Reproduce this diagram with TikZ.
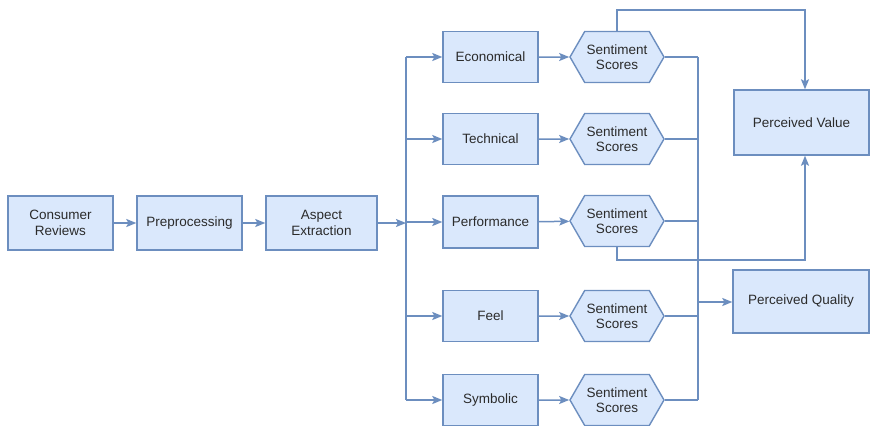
\documentclass[tikz,border=0pt]{standalone}
\usepackage{fontspec}
\setmainfont{Liberation Sans}
\usetikzlibrary{arrows.meta,shapes.symbols}
\definecolor{boxfill}{HTML}{DAE8FC}
\definecolor{boxline}{HTML}{6C8EBF}
\definecolor{txt}{HTML}{2B2B2B}
\begin{document}
\begin{tikzpicture}[x=1pt,y=-1pt,
  font=\fontsize{13.5}{15.5}\selectfont,
  every node/.style={text=txt, align=center, inner sep=2pt},
  box/.style={draw=boxline, fill=boxfill, line width=1.4pt, rectangle},
  hexa/.style={draw=boxline, fill=boxfill, line width=1.4pt, signal,
    signal to=east and west, signal pointer angle=120,
    minimum width=94, minimum height=51, inner xsep=0pt},
  link/.style={draw=boxline, line width=1.5pt},
  arr/.style={link, -{Stealth[length=10pt,width=8pt,inset=2pt]}}]
\useasboundingbox (0,0) rectangle (871,426);

% pipeline
\node[box, minimum width=105, minimum height=54] (cr) at (60.5,223) {Consumer\\Reviews};
\node[box, minimum width=105, minimum height=54] (pp) at (189.5,223) {Preprocessing};
\node[box, minimum width=111, minimum height=54] (ae) at (321.5,223) {Aspect\\Extraction};

% aspects
\node[box, minimum width=95, minimum height=51] (ec) at (490.5,57) {Economical};
\node[box, minimum width=95, minimum height=51] (te) at (490.5,139) {Technical};
\node[box, minimum width=95, minimum height=52] (pe) at (490.5,222) {Performance};
\node[box, minimum width=95, minimum height=51] (fe) at (490.5,316) {Feel};
\node[box, minimum width=95, minimum height=51] (sy) at (490.5,400) {Symbolic};

% sentiment scores
\node[hexa] (s1) at (617,57) {Sentiment\\Scores};
\node[hexa] (s2) at (617,139) {Sentiment\\Scores};
\node[hexa] (s3) at (617,221) {Sentiment\\Scores};
\node[hexa] (s4) at (617,316) {Sentiment\\Scores};
\node[hexa] (s5) at (617,400) {Sentiment\\Scores};

% outcomes
\node[box, minimum width=135, minimum height=65] (pv) at (801.5,122.5) {Perceived Value};
\node[box, minimum width=136, minimum height=63] (pq) at (801,301.5) {Perceived Quality};

% bus points
\coordinate (lbus) at (406,223);
\coordinate (rbus) at (698,302);
\coordinate (vx) at (805,0);

\draw[arr] (cr) -- (pp);
\draw[arr] (pp) -- (ae);
\draw[arr] (ae) -- (lbus);
\draw[link] (lbus |- ec) -- (lbus |- sy);
\foreach \n in {ec,te,pe,fe,sy} \draw[arr] (lbus |- \n) -- (\n);

\draw[arr] (ec) -- (s1);
\draw[arr] (te) -- (s2);
\draw[arr] (pe) -- (s3);
\draw[arr] (fe) -- (s4);
\draw[arr] (sy) -- (s5);

\foreach \n in {s1,s2,s3,s4,s5} \draw[link] (\n.east) -- (\n.east -| rbus);
\draw[link] (s1.east -| rbus) -- (s5.east -| rbus);
\draw[arr] (rbus) -- (pq.west |- rbus);

\draw[arr] (s1.north) -- (s1.north |- 0,10) -| (vx |- pv.north);
\draw[arr] (s3.south) -- (s3.south |- 0,260) -| (vx |- pv.south);
\end{tikzpicture}
\end{document}
